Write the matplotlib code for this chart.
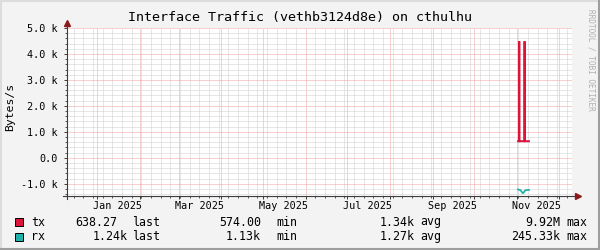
import numpy as np
import pandas as pd
import matplotlib
matplotlib.use("Agg")
import matplotlib.pyplot as plt
import matplotlib.dates as mdates
from matplotlib.lines import Line2D
from matplotlib.patches import Rectangle
from matplotlib.ticker import MultipleLocator, FuncFormatter

plt.rcParams['font.family'] = ['DejaVu Sans Mono']

# data (bytes/s)
tx_time = ["2025-11-01 16:00", "2025-11-02 12:00", "2025-11-02 14:00", "2025-11-02 16:00",
           "2025-11-06 08:00", "2025-11-06 10:00", "2025-11-06 12:00", "2025-11-09 14:00"]
tx_bytes = [638, 638, 4490, 638, 638, 4490, 638, 638]
rx_time = ["2025-11-01 16:00", "2025-11-03 12:00", "2025-11-05 00:00",
           "2025-11-05 12:00", "2025-11-07 00:00", "2025-11-09 14:00"]
rx_bytes = [1220, 1250, 1360, 1360, 1250, 1240]  # drawn below zero

month_labels = ["Jan 2025", "Mar 2025", "May 2025", "Jul 2025", "Sep 2025", "Nov 2025"]
month_label_dates = ["2025-01-16", "2025-03-16", "2025-05-16", "2025-07-16", "2025-09-15", "2025-11-15"]

names = ["tx", "rx"]
colors = ["#DC143C", "#20B2AA"]
last_vals = ["638.27", "1.24k"]
min_vals = ["574.00", "1.13k"]
avg_vals = ["1.34k", "1.27k"]
max_vals = ["9.92M", "245.33k"]

title = "Interface Traffic (vethb3124d8e) on cthulhu"

W, H = 600, 250
BACK = "#F3F3F3"
AXIS = "#3C3C3C"
ARROW = "#8B1A1A"
MGRID = "#F2A0A0"
GRID = "#CFCFCF"

def px(x, y):
    return x / W, 1 - y / H

fig = plt.figure(figsize=(6, 2.5), dpi=100, facecolor=BACK)
left, top = px(67, 28)
right, bottom = px(572, 196.3)
ax = fig.add_axes([left, bottom, right - left, top - bottom])
ax.set_facecolor("white")

tx_t = pd.to_datetime(tx_time)
rx_t = pd.to_datetime(rx_time)
ax.plot(tx_t, tx_bytes, color=colors[0], lw=1.4, solid_joinstyle="miter", zorder=3)
ax.plot(rx_t, -np.array(rx_bytes), color=colors[1], lw=1.3, zorder=3)

ax.set_xlim(pd.Timestamp("2024-12-10 06:00"), pd.Timestamp("2025-12-10 18:00"))
ax.set_ylim(-1485, 5000)

# grid
ax.xaxis.set_major_locator(mdates.MonthLocator())
ax.xaxis.set_minor_locator(mdates.WeekdayLocator(byweekday=mdates.SU))
ax.xaxis.set_major_formatter(plt.NullFormatter())
ax.yaxis.set_major_locator(MultipleLocator(1000))
ax.yaxis.set_minor_locator(MultipleLocator(200))
ax.yaxis.set_major_formatter(FuncFormatter(lambda v, p: "0.0" if v == 0 else "%.1f k" % (v / 1000)))
ax.grid(which="minor", color=GRID, lw=0.72, ls=(0, (1, 1)))
ax.grid(which="major", color=MGRID, lw=0.72, ls=(0, (1, 1)))
ax.set_axisbelow(True)
ax.tick_params(which="major", length=2.5, width=0.7, color=AXIS, labelsize=7.3, pad=4)
ax.tick_params(which="minor", length=1.5, width=0.6, color=AXIS)

for s in ax.spines.values():
    s.set_visible(False)

# axes with arrows
ax.plot([-0.008, 1.012], [0, 0], transform=ax.transAxes, color=AXIS, lw=0.8, clip_on=False)
ax.plot([0, 0], [-0.015, 1.03], transform=ax.transAxes, color=AXIS, lw=0.8, clip_on=False)
ax.plot([1.012], [0], transform=ax.transAxes, marker=">", ms=4, color=ARROW, clip_on=False)
ax.plot([0], [1.03], transform=ax.transAxes, marker="^", ms=4, color=ARROW, clip_on=False)

# month labels centred in the months
lab_tr = matplotlib.transforms.blended_transform_factory(ax.transData, fig.transFigure)
for d, lab in zip(month_label_dates, month_labels):
    ax.text(mdates.date2num(pd.Timestamp(d)), px(0, 206)[1], lab, transform=lab_tr,
            ha="center", va="center", fontsize=7.3)

fig.text(*px(300, 18), title, ha="center", va="center", fontsize=9.6)
fig.text(*px(10, 107), "Bytes/s", rotation=90, ha="center", va="center", fontsize=8.2)
fig.text(*px(591, 60), "RRDTOOL / TOBI OETIKER", rotation=270, ha="center", va="center",
         fontsize=5.6, color="#B0B0B0")

# legend rows
row_y = [222, 236.5]
last_right = [117, 128]
for i in range(2):
    y = row_y[i]
    x0, y0 = px(15, y + 4)
    fig.add_artist(Rectangle((x0, y0), 8 / W, 8 / H, transform=fig.transFigure,
                             facecolor=colors[i], edgecolor="black", lw=0.7))
    fig.text(*px(31, y), names[i], va="center", fontsize=8.4)
    fig.text(*px(last_right[i], y), last_vals[i], ha="right", va="center", fontsize=8.4)
    fig.text(*px(132, y), "last", va="center", fontsize=8.4)
    fig.text(*px(261, y), min_vals[i], ha="right", va="center", fontsize=8.4)
    fig.text(*px(276, y), "min", va="center", fontsize=8.4)
    fig.text(*px(415, y), avg_vals[i], ha="right", va="center", fontsize=8.4)
    fig.text(*px(420, y), "avg", va="center", fontsize=8.4)
    fig.text(*px(560, y), max_vals[i], ha="right", va="center", fontsize=8.4)
    fig.text(*px(566, y), "max", va="center", fontsize=8.4)

# 3d frame
fig.add_artist(Line2D([0, 1], [0.998, 0.998], transform=fig.transFigure, color="#DCDCDC", lw=1.5))
fig.add_artist(Line2D([0.0015, 0.0015], [0, 1], transform=fig.transFigure, color="#DCDCDC", lw=1.5))
fig.add_artist(Line2D([0, 1], [0.004, 0.004], transform=fig.transFigure, color="#9E9E9E", lw=1.5))
fig.add_artist(Line2D([0.9975, 0.9975], [0, 1], transform=fig.transFigure, color="#9E9E9E", lw=1.5))

fig.savefig("out.png", dpi=100, facecolor=BACK)
